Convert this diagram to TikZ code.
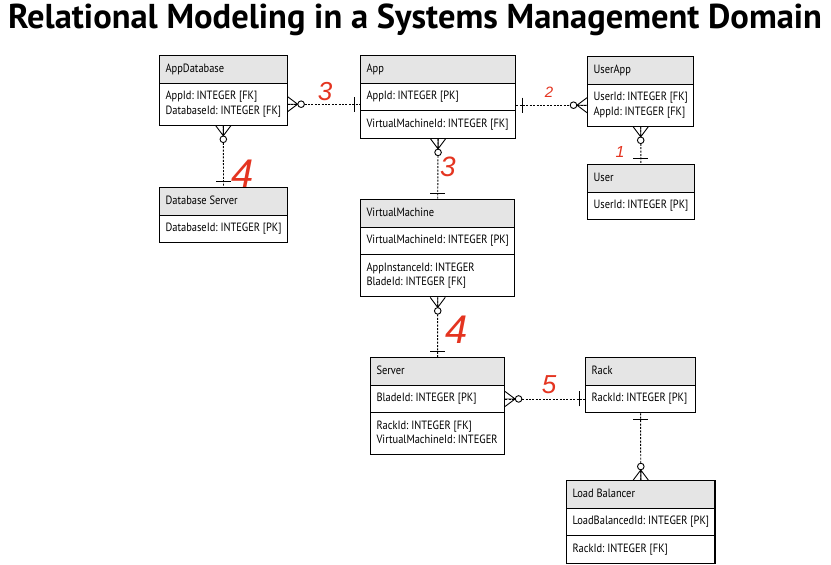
\documentclass[tikz,border=0pt]{standalone}
\usepackage{fontspec}
\setmainfont{PT Sans}
\newfontfamily\tablefont[FakeStretch=0.87]{PT Sans}
\newfontfamily\titlefont{PT Sans}
\newfontfamily\handfont{Liberation Sans}
\usepackage{xcolor}
\usepackage{tikz}
\usetikzlibrary{shapes.multipart,calc}
\frenchspacing

\definecolor{hdrgray}{RGB}{229,229,229}
\definecolor{penred}{RGB}{228,52,32}

\newcommand{\fld}[1]{\strut#1}
\newcommand{\twoln}[2]{\begin{tabular}{@{}l@{}}#1\\#2\end{tabular}}

\tikzset{
  entity/.style={rectangle split, rectangle split parts=#1, draw, line width=1.1pt,
    rectangle split part fill={hdrgray,white,white}, anchor=north west,
    rectangle split part align=left,
    inner xsep=6pt, inner ysep=6pt,
    font=\tablefont\fontsize{12}{14.5}\selectfont\frenchspacing},
  entity/.default=3,
  link/.style={line width=0.9pt, dash pattern=on 2pt off 1.4pt},
  hand/.style={text=penred, inner sep=0pt,
    font=\handfont\itshape\fontsize{#1}{#1}\selectfont},
  ermany/.pic={
    \draw[line width=0.9pt] (0,-7.5) -- (10,0) -- (0,7.5) (0,0) -- (10,0);
    \draw[line width=0.9pt, fill=white] (13.5,0) circle (3.3pt);
  },
  erone/.pic={
    \draw[line width=0.9pt] (6,-7.5) -- (6,7.5);
  },
}

\begin{document}
\begin{tikzpicture}[x=1pt, y=-1pt]
  \useasboundingbox[fill=white] (0,0) rectangle (831,565);

  % Titolo
  \node[anchor=base, font=\titlefont\bfseries\fontsize{34.5}{38}\selectfont] (title) at (415,28)
    {Relational Modeling in a Systems Management Domain};

  % Tabelle
  \node[entity=2, minimum width=127pt] (appdb) at (159,55)
    {\fld{AppDatabase}\nodepart{two}\twoln{AppId: INTEGER [FK]}{DatabaseId: INTEGER [FK]}};
  \node[entity=3, minimum width=155pt] (app) at (360,55)
    {\fld{App}\nodepart{two}\fld{AppId: INTEGER [PK]}\nodepart{three}\fld{VirtualMachineId: INTEGER [FK]}};
  \node[entity=2, minimum width=106pt] (userapp) at (587,56)
    {\fld{UserApp}\nodepart{two}\twoln{UserId: INTEGER [FK]}{AppId: INTEGER [FK]}};
  \node[entity=2, minimum width=106pt] (user) at (587,164)
    {\fld{User}\nodepart{two}\fld{UserId: INTEGER [PK]}};
  \node[entity=2, minimum width=127pt] (dbserver) at (159,187)
    {\fld{Database Server}\nodepart{two}\fld{DatabaseId: INTEGER [PK]}};
  \node[entity=3, minimum width=154pt] (vm) at (360,199)
    {\fld{VirtualMachine}\nodepart{two}\fld{VirtualMachineId: INTEGER [PK]}\nodepart{three}\twoln{AppInstanceId: INTEGER}{BladeId: INTEGER [FK]}};
  \node[entity=3, minimum width=134pt] (server) at (370,357)
    {\fld{Server}\nodepart{two}\fld{BladeId: INTEGER [PK]}\nodepart{three}\twoln{RackId: INTEGER [FK]}{VirtualMachineId: INTEGER}};
  \node[entity=2, minimum width=110pt] (rack) at (585,357)
    {\fld{Rack}\nodepart{two}\fld{RackId: INTEGER [PK]}};
  \node[entity=3, minimum width=148pt] (lb) at (566,480)
    {\fld{Load Balancer}\nodepart{two}\fld{LoadBalancedId: INTEGER [PK]}\nodepart{three}\fld{RackId: INTEGER [FK]}};

  % Relazioni
  \draw[link] (appdb.two east) -- (appdb.two east -| app.west);
  \pic at (appdb.two east) {ermany};
  \pic[rotate=180] at (appdb.two east -| app.west) {erone};

  \draw[link] (userapp.two west -| app.east) -- (userapp.two west);
  \pic at (userapp.two west -| app.east) {erone};
  \pic[rotate=180] at (userapp.two west) {ermany};

  \draw[link] (appdb.south) -- (dbserver.north);
  \pic[rotate=-90] at (appdb.south) {ermany};
  \pic[rotate=90] at (dbserver.north) {erone};

  \draw[link] (app.south) -- (vm.north);
  \pic[rotate=-90] at (app.south) {ermany};
  \pic[rotate=90] at (vm.north) {erone};

  \draw[link] (userapp.south) -- (user.north);
  \pic[rotate=-90] at (userapp.south) {ermany};
  \pic[rotate=90] at (user.north) {erone};

  \draw[link] (vm.south) -- (server.north);
  \pic[rotate=-90] at (vm.south) {ermany};
  \pic[rotate=90] at (server.north) {erone};

  \draw[link] (server.two east) -- (server.two east -| rack.west);
  \pic at (server.two east) {ermany};
  \pic[rotate=180] at (server.two east -| rack.west) {erone};

  \draw[link] (rack.south) -- (lb.north);
  \pic[rotate=-90] at (rack.south) {erone};
  \pic[rotate=90] at (lb.north) {ermany};

  % Numeri a mano
  \node[hand=26] (n3a) at (325,92) {3};
  \node[hand=15] (n2) at (549,92) {2};
  \node[hand=16] (n1) at (620,152) {1};
  \node[hand=40] (n4a) at (243,174) {4};
  \node[hand=28] (n3b) at (448,167) {3};
  \node[hand=40] (n4b) at (457,330) {4};
  \node[hand=26] (n5) at (549,385) {5};
\end{tikzpicture}
\end{document}
